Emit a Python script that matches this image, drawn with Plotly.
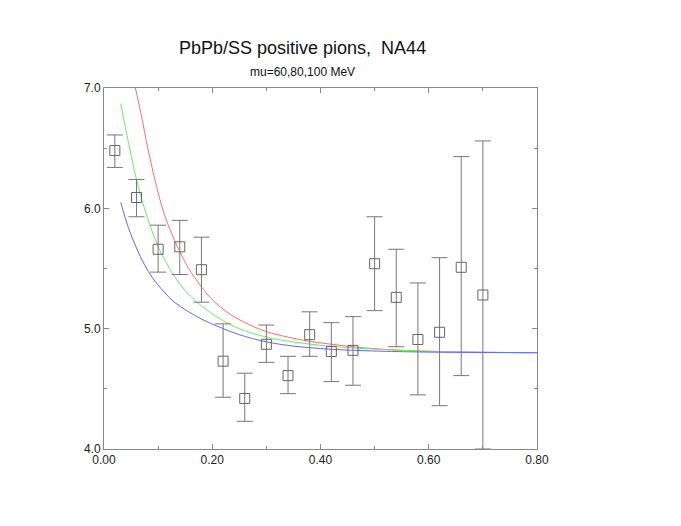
import plotly.graph_objects as go

# measured ratio points
pt = [0.02, 0.06, 0.10, 0.14, 0.18, 0.22, 0.26, 0.30, 0.34,
      0.38, 0.42, 0.46, 0.50, 0.54, 0.58, 0.62, 0.66, 0.70]
ratio = [6.48, 6.09, 5.66, 5.68, 5.49, 4.73, 4.42, 4.87, 4.61,
         4.95, 4.81, 4.82, 5.54, 5.26, 4.91, 4.97, 5.51, 5.28]
err_up = [0.13, 0.15, 0.20, 0.22, 0.27, 0.31, 0.21, 0.16, 0.16,
          0.19, 0.24, 0.28, 0.39, 0.40, 0.47, 0.62, 0.92, 1.28]
err_dn = [0.14, 0.16, 0.19, 0.23, 0.27, 0.30, 0.19, 0.15, 0.15,
          0.18, 0.25, 0.29, 0.39, 0.41, 0.46, 0.61, 0.90, 1.28]

# model curves, mu = 60, 80, 100 MeV
x_red = [0.058, 0.07, 0.08, 0.095, 0.11, 0.125, 0.14, 0.155, 0.17, 0.19, 0.215,
         0.24, 0.27, 0.30, 0.34, 0.38, 0.45, 0.51, 0.60, 0.70, 0.80]
y_red = [7.00, 6.75, 6.52, 6.22, 5.97, 5.79, 5.64, 5.51, 5.41, 5.29, 5.18,
         5.10, 5.03, 4.975, 4.93, 4.895, 4.855, 4.83, 4.812, 4.804, 4.80]
x_green = [0.031, 0.045, 0.058, 0.07, 0.085, 0.10, 0.12, 0.14, 0.16, 0.18, 0.215,
           0.25, 0.30, 0.35, 0.40, 0.45, 0.51, 0.60, 0.70, 0.80]
y_green = [6.87, 6.55, 6.28, 6.07, 5.86, 5.68, 5.51, 5.37, 5.27, 5.19, 5.08,
           5.00, 4.93, 4.89, 4.862, 4.843, 4.828, 4.812, 4.804, 4.80]
x_blue = [0.031, 0.045, 0.06, 0.075, 0.09, 0.11, 0.13, 0.153, 0.18, 0.215,
          0.25, 0.30, 0.35, 0.40, 0.45, 0.51, 0.60, 0.70, 0.80]
y_blue = [6.05, 5.84, 5.67, 5.53, 5.42, 5.31, 5.22, 5.15, 5.08, 5.01,
          4.95, 4.89, 4.855, 4.835, 4.822, 4.813, 4.805, 4.802, 4.80]

fig = go.Figure()
for xs, ys, col in [(x_red, y_red, "#ff6b6b"), (x_green, y_green, "#66ee66"), (x_blue, y_blue, "#6666ff")]:
    fig.add_trace(go.Scatter(x=xs, y=ys, mode="lines", line=dict(color=col, width=1, shape="spline"),
                             showlegend=False, hoverinfo="skip"))

fig.add_trace(go.Scatter(
    x=pt, y=ratio, mode="markers",
    marker=dict(symbol="square-open", size=10, color="#666666", line=dict(width=1)),
    error_y=dict(type="data", symmetric=False, array=err_up, arrayminus=err_dn,
                 color="#777777", thickness=1, width=8),
    showlegend=False))

axis_common = dict(showline=True, linecolor="#888888", linewidth=1, mirror="ticks",
                   ticks="inside", ticklen=5, tickcolor="#888888", showgrid=False, zeroline=False,
                   tickfont=dict(family="Liberation Sans, Arial, sans-serif", size=12, color="#222222"))

fig.update_xaxes(range=[0, 0.8], dtick=0.2, tickformat=".2f",
                 minor=dict(dtick=0.1, ticks="inside", ticklen=3, tickcolor="#888888"), **axis_common)
fig.update_yaxes(range=[4.0, 7.0], dtick=1.0, tickformat=".1f",
                 minor=dict(dtick=0.5, ticks="inside", ticklen=3, tickcolor="#888888"), **axis_common)

fig.add_annotation(text="PbPb/SS positive pions,  NA44", xref="paper", yref="paper",
                   x=0.458, y=1.0, yshift=40, showarrow=False, yanchor="middle",
                   font=dict(family="Liberation Sans, Arial, sans-serif", size=18, color="#111111"))
fig.add_annotation(text="mu=60,80,100 MeV", xref="paper", yref="paper",
                   x=0.458, y=1.0, yshift=16, showarrow=False, yanchor="middle",
                   font=dict(family="Liberation Sans, Arial, sans-serif", size=12, color="#111111"))

fig.update_layout(width=681, height=526, plot_bgcolor="white", paper_bgcolor="white",
                  margin=dict(l=96, r=152, t=80, b=85))

fig.write_html("out.html")
